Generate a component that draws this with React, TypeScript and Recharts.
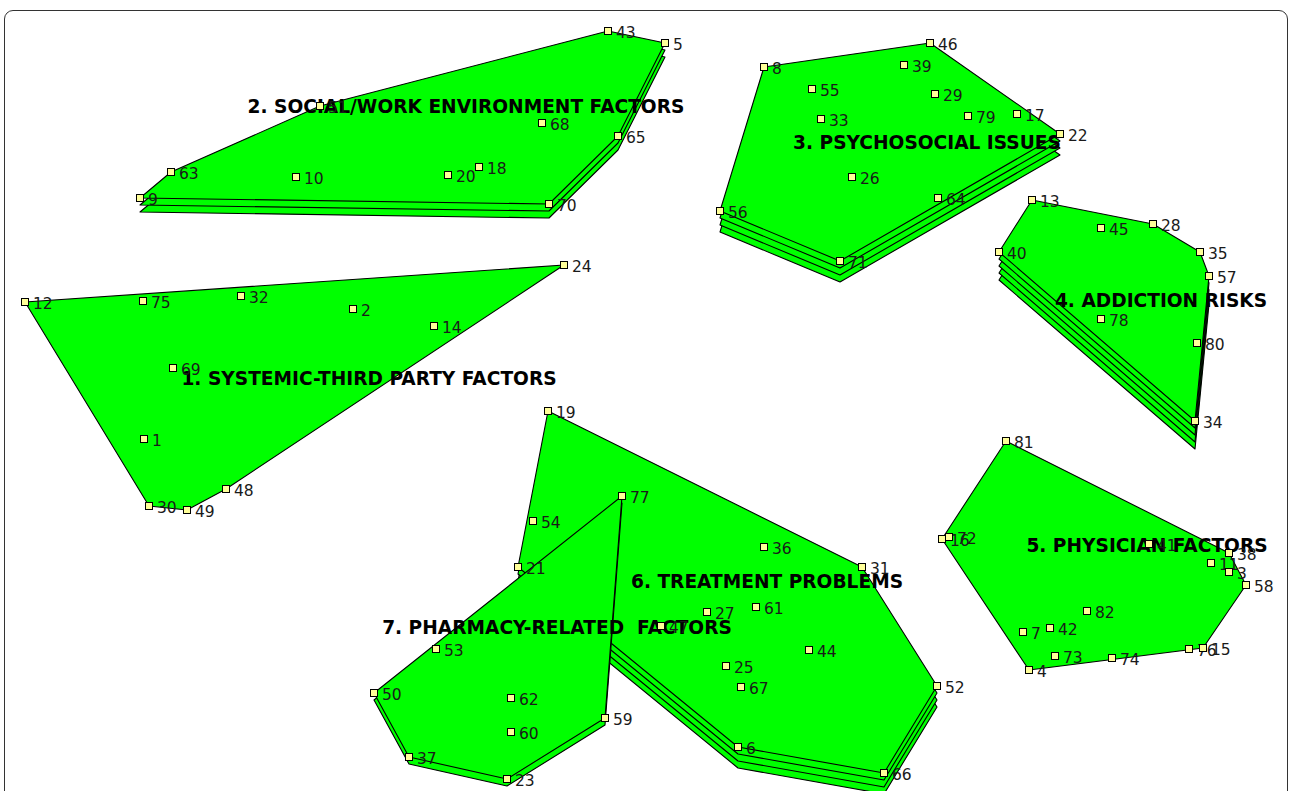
import { ScatterChart, Scatter, XAxis, YAxis } from "recharts";

type Pt = { id: number; x: number; y: number };

// point positions (x to the right, y downward)
const cluster1: Pt[] = [
  { id: 12, x: 25, y: 302 }, { id: 75, x: 143, y: 301 }, { id: 32, x: 241, y: 296 },
  { id: 2, x: 353, y: 309 }, { id: 14, x: 434, y: 326 }, { id: 24, x: 564, y: 265 },
  { id: 69, x: 173, y: 368 }, { id: 1, x: 144, y: 439 }, { id: 30, x: 149, y: 506 },
  { id: 49, x: 187, y: 510 }, { id: 48, x: 226, y: 489 },
];
const cluster2: Pt[] = [
  { id: 43, x: 608, y: 31 }, { id: 5, x: 665, y: 43 }, { id: 68, x: 542, y: 123 },
  { id: 65, x: 618, y: 136 }, { id: 51, x: 320, y: 106 }, { id: 63, x: 171, y: 172 },
  { id: 10, x: 296, y: 177 }, { id: 20, x: 448, y: 175 }, { id: 18, x: 479, y: 167 },
  { id: 9, x: 140, y: 198 }, { id: 70, x: 549, y: 204 },
];
const cluster3: Pt[] = [
  { id: 8, x: 764, y: 67 }, { id: 46, x: 930, y: 43 }, { id: 39, x: 904, y: 65 },
  { id: 55, x: 812, y: 89 }, { id: 29, x: 935, y: 94 }, { id: 33, x: 821, y: 119 },
  { id: 79, x: 968, y: 116 }, { id: 17, x: 1017, y: 114 }, { id: 22, x: 1060, y: 134 },
  { id: 26, x: 852, y: 177 }, { id: 64, x: 938, y: 198 }, { id: 56, x: 720, y: 211 },
  { id: 71, x: 840, y: 261 },
];
const cluster4: Pt[] = [
  { id: 13, x: 1032, y: 200 }, { id: 45, x: 1101, y: 228 }, { id: 28, x: 1153, y: 224 },
  { id: 35, x: 1200, y: 252 }, { id: 40, x: 999, y: 252 }, { id: 57, x: 1209, y: 276 },
  { id: 78, x: 1101, y: 319 }, { id: 80, x: 1197, y: 343 }, { id: 34, x: 1195, y: 421 },
];
const cluster5: Pt[] = [
  { id: 81, x: 1006, y: 441 }, { id: 16, x: 942, y: 539 }, { id: 72, x: 949, y: 537 },
  { id: 41, x: 1149, y: 544 }, { id: 38, x: 1229, y: 553 }, { id: 11, x: 1211, y: 563 },
  { id: 3, x: 1229, y: 572 }, { id: 58, x: 1246, y: 585 }, { id: 82, x: 1087, y: 611 },
  { id: 7, x: 1023, y: 632 }, { id: 42, x: 1050, y: 628 }, { id: 73, x: 1055, y: 656 },
  { id: 74, x: 1112, y: 658 }, { id: 76, x: 1189, y: 649 }, { id: 15, x: 1203, y: 648 },
  { id: 4, x: 1029, y: 670 },
];
const cluster6: Pt[] = [
  { id: 19, x: 548, y: 411 }, { id: 54, x: 533, y: 521 }, { id: 21, x: 518, y: 567 },
  { id: 36, x: 764, y: 547 }, { id: 31, x: 862, y: 567 }, { id: 27, x: 707, y: 612 },
  { id: 61, x: 756, y: 607 }, { id: 47, x: 661, y: 626 }, { id: 44, x: 809, y: 650 },
  { id: 25, x: 726, y: 666 }, { id: 67, x: 741, y: 687 }, { id: 52, x: 937, y: 686 },
  { id: 6, x: 738, y: 747 }, { id: 66, x: 884, y: 773 },
];
const cluster7: Pt[] = [
  { id: 77, x: 622, y: 496 }, { id: 53, x: 436, y: 649 }, { id: 50, x: 374, y: 693 },
  { id: 62, x: 511, y: 698 }, { id: 60, x: 511, y: 732 }, { id: 59, x: 605, y: 718 },
  { id: 37, x: 409, y: 757 }, { id: 23, x: 507, y: 779 },
];

// hull outline of every cluster, in drawing order
const hull1 = [12, 24, 48, 49, 30];
const hull2 = [9, 63, 51, 43, 5, 65, 70];
const hull3 = [8, 46, 22, 71, 56];
const hull4 = [13, 28, 35, 57, 34, 40];
const hull5 = [81, 38, 58, 15, 4, 16];
const hull6 = [19, 31, 52, 66, 6, 21];
const hull7 = [77, 59, 23, 37, 50];

const clusterNames = [
  "1. SYSTEMIC-THIRD PARTY FACTORS",
  "2. SOCIAL/WORK ENVIRONMENT FACTORS",
  "3. PSYCHOSOCIAL ISSUES",
  "4. ADDICTION RISKS",
  "5. PHYSICIAN FACTORS",
  "6. TREATMENT PROBLEMS",
  "7. PHARMACY-RELATED  FACTORS",
];
const clusterLayers = [1, 3, 4, 5, 1, 4, 2];
const clusterLabelX = [369, 466, 927, 1161, 1147, 767, 557];
const clusterLabelY = [378, 106, 142, 300, 545, 581, 627];

const clusters = [cluster1, cluster2, cluster3, cluster4, cluster5, cluster6, cluster7];
const hulls = [hull1, hull2, hull3, hull4, hull5, hull6, hull7];

const LAYER_GAP = 7;

const hullData = hulls.map((h, i) =>
  h.map((id) => clusters[i].find((p) => p.id === id) as Pt)
);
const allPoints = clusters.flat();
const titleData = clusterNames.map((name, i) => ({
  name,
  x: clusterLabelX[i],
  y: clusterLabelY[i],
}));

// draws the cluster polygon plus its stacked copies underneath
const stackedPolygon = (layers: number) => (props: any) => {
  const pts: { x: number; y: number }[] = props.points || [];
  const out = [];
  for (let i = layers - 1; i >= 0; i--) {
    const d = pts.map((p) => `${p.x},${p.y + i * LAYER_GAP}`).join(" ");
    out.push(
      <polygon key={i} points={d} fill="#00ff00" stroke="#000" strokeWidth={1.1} strokeLinejoin="round" />
    );
  }
  return <g>{out}</g>;
};

const PointShape = (props: any) => {
  const { cx, cy, payload } = props;
  return (
    <g>
      <rect x={cx - 3.5} y={cy - 3.5} width={7} height={7} fill="#ffff99" stroke="#000" strokeWidth={1} />
      <text x={cx + 8} y={cy + 7} fontSize={15.5} fill="#1a1a1a" fontFamily="DejaVu Sans, sans-serif">
        {payload.id}
      </text>
    </g>
  );
};

const TitleShape = (props: any) => {
  const { cx, cy, payload } = props;
  return (
    <text
      x={cx}
      y={cy}
      textAnchor="middle"
      dominantBaseline="central"
      fontSize={18.6}
      fontWeight="bold"
      fill="#000"
      fontFamily="DejaVu Sans, sans-serif"
      style={{ whiteSpace: "pre" }}
    >
      {payload.name}
    </text>
  );
};

export default function App() {
  return (
    <div style={{ position: "relative", width: 1290, height: 791, overflow: "hidden", background: "#fff" }}>
      <style>{"body{margin:0}"}</style>
      <div
        style={{
          position: "absolute",
          left: 4,
          top: 10,
          width: 1282,
          height: 800,
          border: "1.5px solid #333",
          borderRadius: 9,
        }}
      />
      <div style={{ position: "absolute", left: 0, top: 0 }}>
        <ScatterChart width={1290} height={791} margin={{ top: 0, right: 0, bottom: 0, left: 0 }}>
          <XAxis type="number" dataKey="x" domain={[0, 1290]} allowDataOverflow hide />
          <YAxis type="number" dataKey="y" domain={[0, 791]} allowDataOverflow reversed hide />
          {hullData.map((data, i) => (
            <Scatter
              key={"hull" + i}
              data={data}
              line={stackedPolygon(clusterLayers[i])}
              lineType="joint"
              shape={() => <g />}
              isAnimationActive={false}
            />
          ))}
          <Scatter data={titleData} shape={TitleShape} isAnimationActive={false} />
          <Scatter data={allPoints} shape={PointShape} isAnimationActive={false} />
        </ScatterChart>
      </div>
    </div>
  );
}
